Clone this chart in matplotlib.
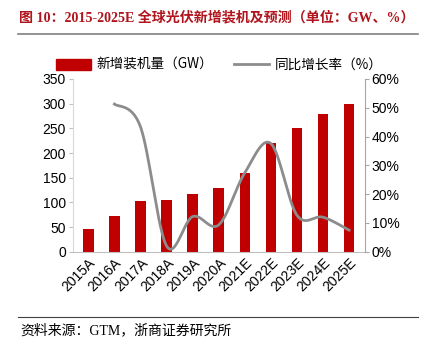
import numpy as np
import matplotlib
matplotlib.use("Agg")
import matplotlib.pyplot as plt
from matplotlib.lines import Line2D
from matplotlib.patches import Patch

plt.rcParams['font.family'] = ['Liberation Sans', 'Noto Sans CJK SC', 'DejaVu Sans']

years = ['2015A', '2016A', '2017A', '2018A', '2019A', '2020A',
         '2021E', '2022E', '2023E', '2024E', '2025E']
install_gw = [47, 72, 102, 105, 117, 130, 160, 220, 250, 280, 300]
growth_pct = [51.3, 43.4, 2.0, 12.2, 9.3, 27.4, 37.6, 12.7, 12.0, 7.5]  # 2016A..2025E

red = '#C00000'
gray = '#8C8C8C'


def smooth(xs, ys, n=30):
    # catmull-rom, similar to the office "smoothed line" option
    xs = np.asarray(xs, float)
    ys = np.asarray(ys, float)
    px = np.concatenate([[xs[0]], xs, [xs[-1]]])
    py = np.concatenate([[ys[0]], ys, [ys[-1]]])
    outx, outy = [], []
    t = np.linspace(0, 1, n)
    for i in range(1, len(px) - 2):
        p0, p1, p2, p3 = px[i-1], px[i], px[i+1], px[i+2]
        q0, q1, q2, q3 = py[i-1], py[i], py[i+1], py[i+2]
        c1x, c1y = p1 + (p2 - p0) / 6, q1 + (q2 - q0) / 6
        c2x, c2y = p2 - (p3 - p1) / 6, q2 - (q3 - q1) / 6
        bx = (1-t)**3*p1 + 3*(1-t)**2*t*c1x + 3*(1-t)*t**2*c2x + t**3*p2
        by = (1-t)**3*q1 + 3*(1-t)**2*t*c1y + 3*(1-t)*t**2*c2y + t**3*q2
        outx.extend(bx)
        outy.extend(by)
    return np.array(outx), np.array(outy)


fig = plt.figure(figsize=(4.26, 3.46), dpi=100)
ax = fig.add_axes([0.1707, 0.2725, 0.6853, 0.4992])
ax2 = ax.twinx()

x = np.arange(len(years))
ax.bar(x, install_gw, width=0.4, color=red, zorder=2)
ax.set_ylim(0, 350)
ax.set_yticks(range(0, 351, 50))
ax.set_xlim(-0.6, len(years) - 0.4)
ax.set_xticks(x)
ax.set_xticklabels(years, rotation=45, ha='right', rotation_mode='anchor', fontsize=10)
ax.tick_params(axis='y', labelsize=10, length=3, color='#BFBFBF', pad=2)
ax.tick_params(axis='x', length=0, pad=3)

sx, sy = smooth(x[1:], growth_pct)
ax2.plot(sx, sy, color=gray, lw=2, zorder=3)
ax2.set_ylim(0, 60)
ax2.set_yticks(range(0, 61, 10))
ax2.set_yticklabels([f'{v}%' for v in range(0, 61, 10)])
ax2.tick_params(axis='y', labelsize=10, length=3, color='#A6A6A6', pad=2)

for a in (ax, ax2):
    a.spines['top'].set_visible(False)
ax.spines['right'].set_visible(False)
ax.spines['left'].set_color('#D9D9D9')
ax.spines['bottom'].set_color('#BFBFBF')
ax2.spines['left'].set_visible(False)
ax2.spines['bottom'].set_visible(False)
ax2.spines['right'].set_color('#A6A6A6')

handles = [Patch(color=red), Line2D([0], [0], color=gray, lw=2)]
fig.legend(handles, ['新增装机量（GW）', '同比增长率（%）'], ncol=2, frameon=False,
           loc='center', bbox_to_anchor=(0.515, 0.812),
           handlelength=2.6, handleheight=0.8, columnspacing=1.5, handletextpad=0.4,
           prop={'family': ['Noto Sans CJK SC'], 'size': 9.8})

fig.text(0.045, 0.95, '图 10：2015-2025E 全球光伏新增装机及预测（单位：GW、%）',
         color='#B0141C', fontsize=10.1, fontweight='bold',
         family=['Liberation Serif', 'Noto Sans CJK SC'], va='center')
fig.add_artist(Line2D([0.042, 0.982], [0.902, 0.902], color='#808080', lw=1.2))
fig.add_artist(Line2D([0.042, 0.982], [0.085, 0.085], color='#404040', lw=0.8))
fig.text(0.047, 0.045, '资料来源：GTM，浙商证券研究所', fontsize=10,
         family=['Liberation Serif', 'Noto Sans CJK SC'], va='center')

fig.savefig('out.png', dpi=100)
